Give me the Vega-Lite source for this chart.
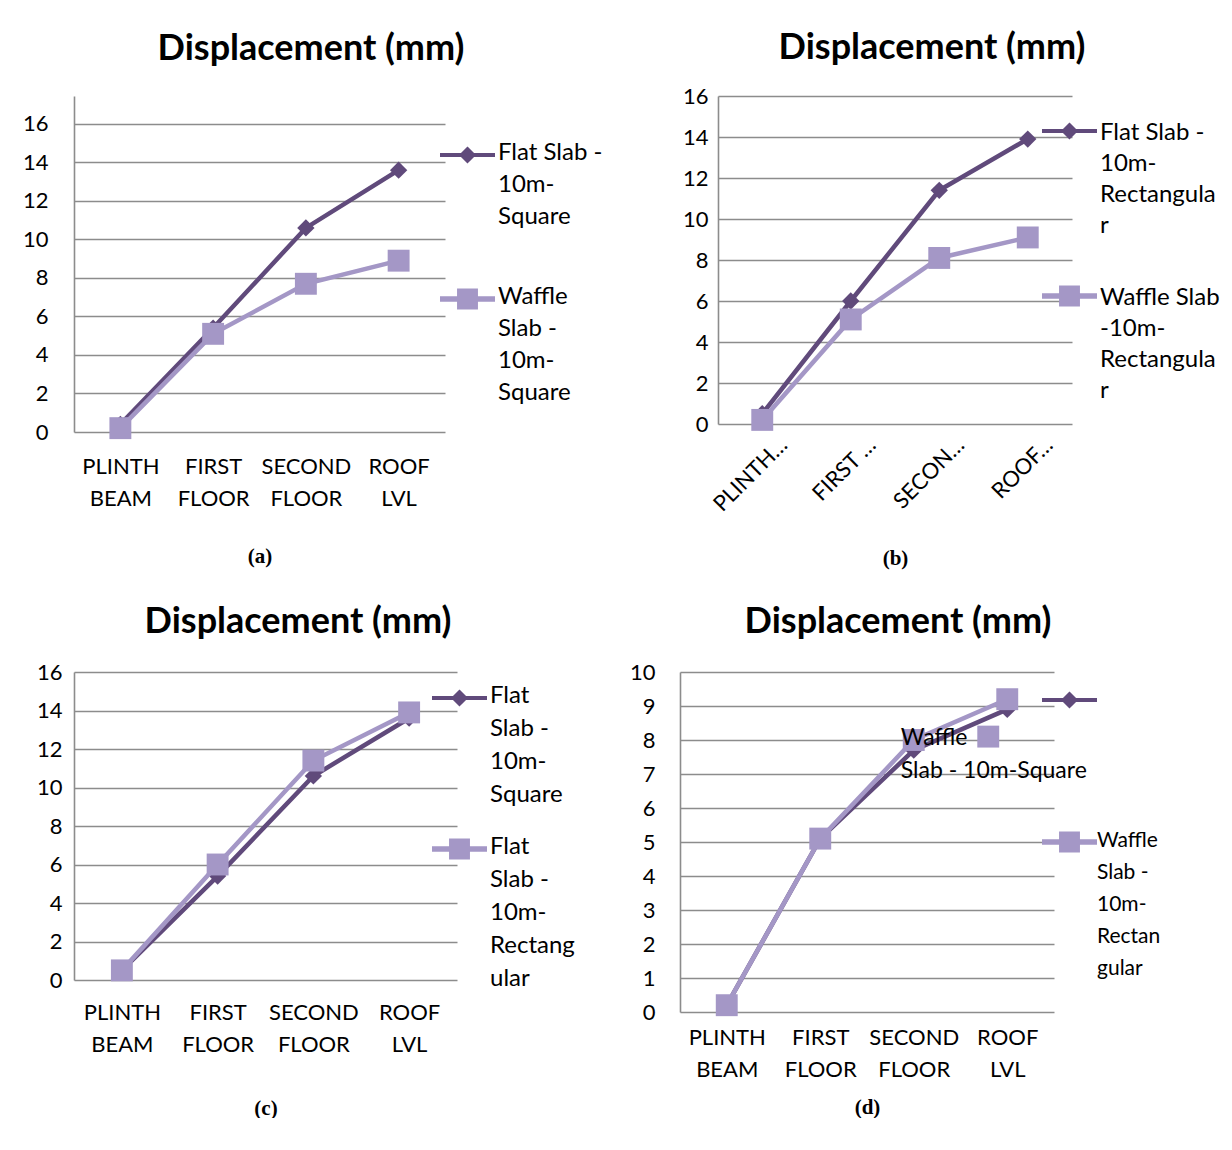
{
  "$schema": "https://vega.github.io/schema/vega-lite/v6.json",
  "padding": {"left": 20, "top": 30, "right": 0, "bottom": 0},
  "background": "white",
  "config": {
    "font": "Lato",
    "view": {"stroke": null},
    "title": {"font": "Lato", "fontWeight": "bold", "fontSize": 36, "color": "black", "anchor": "middle"},
    "axis": {
      "labelFont": "Lato", "labelFontSize": 22, "labelColor": "black",
      "ticks": false, "grid": false, "domain": false,
      "titleFont": "Liberation Serif", "titleFontWeight": "bold", "titleFontSize": 21, "titleColor": "black"
    },
    "axisY": {"grid": true, "gridColor": "#8c8c8c", "gridWidth": 1.6, "domain": true, "domainColor": "#8c8c8c", "domainWidth": 1.6},
    "axisX": {"labelLineHeight": 32},
    "legend": {"labelFont": "Lato", "labelFontSize": 24, "labelColor": "black", "labelLimit": 400, "symbolStrokeWidth": 0, "padding": 0, "symbolOpacity": 1}
  },
  "datasets": {
    "a": [
      {"level": "PLINTH BEAM", "series": "Flat Slab - 10m-Square", "value": 0.4},
      {"level": "FIRST FLOOR", "series": "Flat Slab - 10m-Square", "value": 5.4},
      {"level": "SECOND FLOOR", "series": "Flat Slab - 10m-Square", "value": 10.6},
      {"level": "ROOF LVL", "series": "Flat Slab - 10m-Square", "value": 13.6},
      {"level": "PLINTH BEAM", "series": "Waffle Slab - 10m-Square", "value": 0.2},
      {"level": "FIRST FLOOR", "series": "Waffle Slab - 10m-Square", "value": 5.1},
      {"level": "SECOND FLOOR", "series": "Waffle Slab - 10m-Square", "value": 7.7},
      {"level": "ROOF LVL", "series": "Waffle Slab - 10m-Square", "value": 8.9}
    ],
    "b": [
      {"level": "PLINTH BEAM", "series": "Flat Slab - 10m-Rectangular", "value": 0.5},
      {"level": "FIRST FLOOR", "series": "Flat Slab - 10m-Rectangular", "value": 6.0},
      {"level": "SECOND FLOOR", "series": "Flat Slab - 10m-Rectangular", "value": 11.4},
      {"level": "ROOF LVL", "series": "Flat Slab - 10m-Rectangular", "value": 13.9},
      {"level": "PLINTH BEAM", "series": "Waffle Slab -10m-Rectangular", "value": 0.2},
      {"level": "FIRST FLOOR", "series": "Waffle Slab -10m-Rectangular", "value": 5.1},
      {"level": "SECOND FLOOR", "series": "Waffle Slab -10m-Rectangular", "value": 8.1},
      {"level": "ROOF LVL", "series": "Waffle Slab -10m-Rectangular", "value": 9.1}
    ],
    "c": [
      {"level": "PLINTH BEAM", "series": "Flat Slab - 10m-Square", "value": 0.5},
      {"level": "FIRST FLOOR", "series": "Flat Slab - 10m-Square", "value": 5.4},
      {"level": "SECOND FLOOR", "series": "Flat Slab - 10m-Square", "value": 10.6},
      {"level": "ROOF LVL", "series": "Flat Slab - 10m-Square", "value": 13.6},
      {"level": "PLINTH BEAM", "series": "Flat Slab - 10m-Rectangular", "value": 0.5},
      {"level": "FIRST FLOOR", "series": "Flat Slab - 10m-Rectangular", "value": 6.0},
      {"level": "SECOND FLOOR", "series": "Flat Slab - 10m-Rectangular", "value": 11.4},
      {"level": "ROOF LVL", "series": "Flat Slab - 10m-Rectangular", "value": 13.9}
    ],
    "d": [
      {"level": "PLINTH BEAM", "series": "Waffle Slab - 10m-Square", "value": 0.2},
      {"level": "FIRST FLOOR", "series": "Waffle Slab - 10m-Square", "value": 5.1},
      {"level": "SECOND FLOOR", "series": "Waffle Slab - 10m-Square", "value": 7.7},
      {"level": "ROOF LVL", "series": "Waffle Slab - 10m-Square", "value": 8.9},
      {"level": "PLINTH BEAM", "series": "Waffle Slab - 10m-Rectangular", "value": 0.2},
      {"level": "FIRST FLOOR", "series": "Waffle Slab - 10m-Rectangular", "value": 5.1},
      {"level": "SECOND FLOOR", "series": "Waffle Slab - 10m-Rectangular", "value": 8.0},
      {"level": "ROOF LVL", "series": "Waffle Slab - 10m-Rectangular", "value": 9.2}
    ],
    "dnote": [
      {"level": "SECOND FLOOR", "value": 8.05, "note": "Waffle"},
      {"level": "SECOND FLOOR", "value": 7.1, "note": "Slab - 10m-Square"}
    ],
    "dsq": [
      {"level": "ROOF LVL", "value": 8.1}
    ]
  },
  "resolve": {"scale": {"color": "independent", "shape": "independent", "size": "independent", "x": "independent", "y": "independent"}, "legend": {"color": "independent"}},
  "spacing": 35,
  "vconcat": [
    {
      "resolve": {"scale": {"color": "independent", "shape": "independent", "size": "independent", "x": "independent", "y": "independent"}, "legend": {"color": "independent"}},
      "spacing": 75,
      "hconcat": [
        {
          "width": 371, "height": 336,
          "title": {"text": "Displacement (mm)", "dx": 51.5, "offset": 28},
          "data": {"name": "a"},
          "encoding": {
            "x": {"field": "level", "type": "ordinal", "sort": ["PLINTH BEAM", "FIRST FLOOR", "SECOND FLOOR", "ROOF LVL"], "scale": {"type": "point", "padding": 0.5},
              "axis": {"title": "(a)", "labelAngle": 0, "labelExpr": "split(datum.label, ' ')", "labelPadding": 24, "titlePadding": 36}},
            "y": {"field": "value", "type": "quantitative", "scale": {"domain": [0, 17.4545], "nice": false},
              "axis": {"title": null, "values": [0, 2, 4, 6, 8, 10, 12, 14, 16], "labelPadding": 26, "minExtent": 54, "maxExtent": 54}}
          },
          "layer": [
            {"transform": [{"filter": "datum.series == 'Flat Slab - 10m-Square'"}], "mark": {"type": "line", "strokeWidth": 4.5, "color": "#604A7B"}},
            {"transform": [{"filter": "datum.series == 'Flat Slab - 10m-Square'"}], "mark": {"type": "point", "shape": "diamond", "filled": true, "opacity": 1, "size": 300, "color": "#604A7B"}},
            {"transform": [{"filter": "datum.series == 'Waffle Slab - 10m-Square'"}], "mark": {"type": "line", "strokeWidth": 4.5, "color": "#A497C6"}},
            {"transform": [{"filter": "datum.series == 'Waffle Slab - 10m-Square'"}], "mark": {"type": "point", "shape": "square", "filled": true, "opacity": 1, "size": 480, "color": "#A497C6"}},
            {"mark": {"type": "point", "filled": true, "opacity": 0},
              "encoding": {
                "color": {"field": "series", "type": "nominal", "scale": {"domain": ["Flat Slab - 10m-Square", "Waffle Slab - 10m-Square"], "range": ["#604A7B", "#A497C6"]},
                  "legend": {"orient": "none", "legendX": 366, "legendY": 31.5, "title": null, "labelBaseline": "top", "labelOffset": 3, "rowPadding": 42,
                    "labelExpr": "datum.label == 'Flat Slab - 10m-Square' ? ['Flat Slab -', '10m-', 'Square'] : ['Waffle', 'Slab -', '10m-', 'Square']",
                    "encode": {"labels": {"update": {"dy": {"value": -14}, "lineHeight": {"value": 32}}}}}},
                "shape": {"field": "series", "type": "nominal", "scale": {"domain": ["Flat Slab - 10m-Square", "Waffle Slab - 10m-Square"], "range": ["M-1,-0.075L1,-0.075L1,0.075L-1,0.075Z M0,-0.31L0.31,0L0,0.31L-0.31,0Z", "M-1,-0.1L1,-0.1L1,0.1L-1,0.1Z M-0.38,-0.38L0.38,-0.38L0.38,0.38L-0.38,0.38Z"]}, "legend": null},
                "size": {"field": "series", "type": "nominal", "scale": {"domain": ["Flat Slab - 10m-Square", "Waffle Slab - 10m-Square"], "range": [3025, 3025]}, "legend": null}
              }}
          ]
        },
        {
          "width": 354, "height": 328,
          "title": {"text": "Displacement (mm)", "dx": 37, "offset": 18},
          "data": {"name": "b"},
          "encoding": {
            "x": {"field": "level", "type": "ordinal", "sort": ["PLINTH BEAM", "FIRST FLOOR", "SECOND FLOOR", "ROOF LVL"], "scale": {"type": "point", "padding": 0.5},
              "axis": {"title": "(b)", "labelAngle": -45, "labelAlign": "right", "labelBaseline": "top", "labelOffset": 14, "labelExpr": "datum.label == 'PLINTH BEAM' ? 'PLINTH…' : datum.label == 'FIRST FLOOR' ? 'FIRST …' : datum.label == 'SECOND FLOOR' ? 'SECON…' : 'ROOF…'", "labelPadding": 10, "titlePadding": 32}},
            "y": {"field": "value", "type": "quantitative", "scale": {"domain": [0, 16]},
              "axis": {"title": null, "values": [0, 2, 4, 6, 8, 10, 12, 14, 16], "labelPadding": 10, "minExtent": 40, "maxExtent": 40}}
          },
          "layer": [
            {"transform": [{"filter": "datum.series == 'Flat Slab - 10m-Rectangular'"}], "mark": {"type": "line", "strokeWidth": 4.5, "color": "#604A7B"}},
            {"transform": [{"filter": "datum.series == 'Flat Slab - 10m-Rectangular'"}], "mark": {"type": "point", "shape": "diamond", "filled": true, "opacity": 1, "size": 300, "color": "#604A7B"}},
            {"transform": [{"filter": "datum.series == 'Waffle Slab -10m-Rectangular'"}], "mark": {"type": "line", "strokeWidth": 4.5, "color": "#A497C6"}},
            {"transform": [{"filter": "datum.series == 'Waffle Slab -10m-Rectangular'"}], "mark": {"type": "point", "shape": "square", "filled": true, "opacity": 1, "size": 480, "color": "#A497C6"}},
            {"mark": {"type": "point", "filled": true, "opacity": 0},
              "encoding": {
                "color": {"field": "series", "type": "nominal", "scale": {"domain": ["Flat Slab - 10m-Rectangular", "Waffle Slab -10m-Rectangular"], "range": ["#604A7B", "#A497C6"]},
                  "legend": {"orient": "none", "legendX": 324, "legendY": 7.5, "title": null, "labelBaseline": "top", "labelOffset": 3, "rowPadding": 30,
                    "labelExpr": "datum.label == 'Flat Slab - 10m-Rectangular' ? ['Flat Slab -', '10m-', 'Rectangula', 'r'] : ['Waffle Slab', '-10m-', 'Rectangula', 'r']",
                    "encode": {"labels": {"update": {"dy": {"value": -10}, "lineHeight": {"value": 31}}}}}},
                "shape": {"field": "series", "type": "nominal", "scale": {"domain": ["Flat Slab - 10m-Rectangular", "Waffle Slab -10m-Rectangular"], "range": ["M-1,-0.075L1,-0.075L1,0.075L-1,0.075Z M0,-0.31L0.31,0L0,0.31L-0.31,0Z", "M-1,-0.1L1,-0.1L1,0.1L-1,0.1Z M-0.38,-0.38L0.38,-0.38L0.38,0.38L-0.38,0.38Z"]}, "legend": null},
                "size": {"field": "series", "type": "nominal", "scale": {"domain": ["Flat Slab - 10m-Rectangular", "Waffle Slab -10m-Rectangular"], "range": [3025, 3025]}, "legend": null}
              }}
          ]
        }
      ]
    },
    {
      "resolve": {"scale": {"color": "independent", "shape": "independent", "size": "independent", "x": "independent", "y": "independent"}, "legend": {"color": "independent"}},
      "spacing": 43,
      "hconcat": [
        {
          "width": 383, "height": 308,
          "title": {"text": "Displacement (mm)", "dx": 32.5, "offset": 20},
          "data": {"name": "c"},
          "encoding": {
            "x": {"field": "level", "type": "ordinal", "sort": ["PLINTH BEAM", "FIRST FLOOR", "SECOND FLOOR", "ROOF LVL"], "scale": {"type": "point", "padding": 0.5},
              "axis": {"title": "(c)", "labelAngle": 0, "labelExpr": "split(datum.label, ' ')", "labelPadding": 22, "titlePadding": 42}},
            "y": {"field": "value", "type": "quantitative", "scale": {"domain": [0, 16]},
              "axis": {"title": null, "values": [0, 2, 4, 6, 8, 10, 12, 14, 16], "labelPadding": 12}}
          },
          "layer": [
            {"transform": [{"filter": "datum.series == 'Flat Slab - 10m-Square'"}], "mark": {"type": "line", "strokeWidth": 4.5, "color": "#604A7B"}},
            {"transform": [{"filter": "datum.series == 'Flat Slab - 10m-Square'"}], "mark": {"type": "point", "shape": "diamond", "filled": true, "opacity": 1, "size": 300, "color": "#604A7B"}},
            {"transform": [{"filter": "datum.series == 'Flat Slab - 10m-Rectangular'"}], "mark": {"type": "line", "strokeWidth": 4.5, "color": "#A497C6"}},
            {"transform": [{"filter": "datum.series == 'Flat Slab - 10m-Rectangular'"}], "mark": {"type": "point", "shape": "square", "filled": true, "opacity": 1, "size": 480, "color": "#A497C6"}},
            {"mark": {"type": "point", "filled": true, "opacity": 0},
              "encoding": {
                "color": {"field": "series", "type": "nominal", "scale": {"domain": ["Flat Slab - 10m-Square", "Flat Slab - 10m-Rectangular"], "range": ["#604A7B", "#A497C6"]},
                  "legend": {"orient": "none", "legendX": 358, "legendY": -1.5, "title": null, "labelBaseline": "top", "labelOffset": 3, "rowPadding": 14,
                    "labelExpr": "datum.label == 'Flat Slab - 10m-Square' ? ['Flat', 'Slab -', '10m-', 'Square'] : ['Flat', 'Slab -', '10m-', 'Rectang', 'ular']",
                    "encode": {"labels": {"update": {"dy": {"value": -14}, "lineHeight": {"value": 33}}}}}},
                "shape": {"field": "series", "type": "nominal", "scale": {"domain": ["Flat Slab - 10m-Square", "Flat Slab - 10m-Rectangular"], "range": ["M-1,-0.075L1,-0.075L1,0.075L-1,0.075Z M0,-0.31L0.31,0L0,0.31L-0.31,0Z", "M-1,-0.1L1,-0.1L1,0.1L-1,0.1Z M-0.38,-0.38L0.38,-0.38L0.38,0.38L-0.38,0.38Z"]}, "legend": null},
                "size": {"field": "series", "type": "nominal", "scale": {"domain": ["Flat Slab - 10m-Square", "Flat Slab - 10m-Rectangular"], "range": [3025, 3025]}, "legend": null}
              }}
          ]
        },
        {
          "width": 374, "height": 340,
          "title": {"text": "Displacement (mm)", "dx": 31, "offset": 20},
          "encoding": {
            "x": {"field": "level", "type": "ordinal", "sort": ["PLINTH BEAM", "FIRST FLOOR", "SECOND FLOOR", "ROOF LVL"], "scale": {"type": "point", "padding": 0.5, "domain": ["PLINTH BEAM", "FIRST FLOOR", "SECOND FLOOR", "ROOF LVL"]},
              "axis": {"title": "(d)", "labelAngle": 0, "labelExpr": "split(datum.label, ' ')", "labelPadding": 15, "titlePadding": 16}},
            "y": {"field": "value", "type": "quantitative", "scale": {"domain": [0, 10]},
              "axis": {"title": null, "values": [0, 1, 2, 3, 4, 5, 6, 7, 8, 9, 10], "labelPadding": 25, "minExtent": 62, "maxExtent": 62}}
          },
          "layer": [
            {"data": {"name": "d"}, "transform": [{"filter": "datum.series == 'Waffle Slab - 10m-Square'"}], "mark": {"type": "line", "strokeWidth": 4.5, "color": "#604A7B"}},
            {"data": {"name": "d"}, "transform": [{"filter": "datum.series == 'Waffle Slab - 10m-Square'"}], "mark": {"type": "point", "shape": "diamond", "filled": true, "opacity": 1, "size": 300, "color": "#604A7B"}},
            {"data": {"name": "d"}, "transform": [{"filter": "datum.series == 'Waffle Slab - 10m-Rectangular'"}], "mark": {"type": "line", "strokeWidth": 4.5, "color": "#A497C6"}},
            {"data": {"name": "d"}, "transform": [{"filter": "datum.series == 'Waffle Slab - 10m-Rectangular'"}], "mark": {"type": "point", "shape": "square", "filled": true, "opacity": 1, "size": 480, "color": "#A497C6"}},
            {"data": {"name": "d"}, "mark": {"type": "point", "filled": true, "opacity": 0},
              "encoding": {
                "color": {"field": "series", "type": "nominal", "scale": {"domain": ["Waffle Slab - 10m-Square", "Waffle Slab - 10m-Rectangular"], "range": ["#604A7B", "#A497C6"]},
                  "legend": {"orient": "none", "legendX": 362, "legendY": 0.5, "title": null, "labelBaseline": "top", "labelOffset": 0, "rowPadding": 105, "labelFontSize": 21,
                    "labelExpr": "datum.label == 'Waffle Slab - 10m-Square' ? '' : ['Waffle', 'Slab -', '10m-', 'Rectan', 'gular']",
                    "encode": {"labels": {"update": {"dy": {"value": -12}, "lineHeight": {"value": 32}}}}}},
                "shape": {"field": "series", "type": "nominal", "scale": {"domain": ["Waffle Slab - 10m-Square", "Waffle Slab - 10m-Rectangular"], "range": ["M-1,-0.075L1,-0.075L1,0.075L-1,0.075Z M0,-0.31L0.31,0L0,0.31L-0.31,0Z", "M-1,-0.1L1,-0.1L1,0.1L-1,0.1Z M-0.38,-0.38L0.38,-0.38L0.38,0.38L-0.38,0.38Z"]}, "legend": null},
                "size": {"field": "series", "type": "nominal", "scale": {"domain": ["Waffle Slab - 10m-Square", "Waffle Slab - 10m-Rectangular"], "range": [3025, 3025]}, "legend": null}
              }},
            {"data": {"name": "dsq"}, "mark": {"type": "point", "shape": "square", "filled": true, "opacity": 1, "size": 480, "color": "#A497C6", "xOffset": -19}},
            {"data": {"name": "dnote"}, "mark": {"type": "text", "align": "left", "dx": -13, "fontSize": 23, "font": "Lato", "color": "black"},
              "encoding": {"text": {"field": "note"}}}
          ]
        }
      ]
    }
  ]
}
